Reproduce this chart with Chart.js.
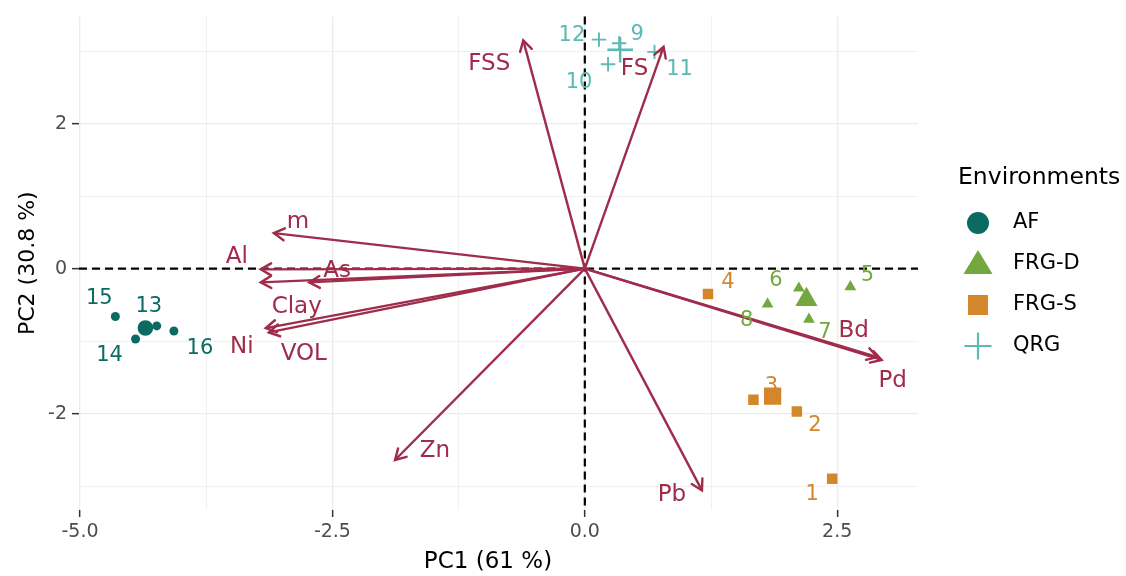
<!DOCTYPE html>
<html>
<head>
<meta charset="utf-8">
<script src="https://cdn.jsdelivr.net/npm/chart.js@4.4.1/dist/chart.umd.min.js"></script>
<style>
  html, body { margin: 0; padding: 0; background: #fff; }
  #wrap { width: 1126px; height: 576px; }
</style>
</head>
<body>
<div id="wrap"><canvas id="biplot" width="1126" height="576"></canvas></div>
<script>
// sample scores
const afIds = ['15', '13', '14', '16'];
const afPC1 = [-4.65, -4.24, -4.45, -4.07];
const afPC2 = [-0.66, -0.79, -0.97, -0.86];

const frgdIds = ['5', '6', '8', '7'];
const frgdPC1 = [2.63, 2.12, 1.81, 2.22];
const frgdPC2 = [-0.25, -0.27, -0.49, -0.70];

const frgsIds = ['4', '3', '2', '1'];
const frgsPC1 = [1.22, 1.67, 2.10, 2.45];
const frgsPC2 = [-0.35, -1.81, -1.97, -2.90];

const qrgIds = ['12', '9', '10', '11'];
const qrgPC1 = [0.14, 0.34, 0.23, 0.69];
const qrgPC2 = [3.16, 3.11, 2.82, 2.99];

// variable arrows
const varNames = ['FSS', 'FS', 'm', 'Al', 'Clay', 'As', 'Ni', 'VOL', 'Zn', 'Pb', 'Bd', 'Pd'];
const varPC1 = [-0.61, 0.78, -3.08, -3.21, -3.21, -2.73, -3.16, -3.13, -1.88, 1.16, 2.90, 2.94];
const varPC2 = [3.15, 3.06, 0.49, -0.01, -0.19, -0.19, -0.82, -0.88, -2.64, -3.06, -1.22, -1.26];

const groupNames = ['AF', 'FRG-D', 'FRG-S', 'QRG'];
const xTicks = [-5, -3.75, -2.5, -1.25, 0, 1.25, 2.5];
const xTickLabels = ['-5.0', '', '-2.5', '', '0.0', '', '2.5'];
const yTicks = [-3, -2, -1, 0, 1, 2, 3];
const yTickLabels = ['', '-2', '', '0', '', '2', ''];

// colours
var colAF = '#0b6b63';
var colD = '#72a83e';
var colS = '#d4862a';
var colQ = '#5bbab3';
var colVar = '#a02c4c';

// label nudges in pixels (like ggrepel placed them)
var sampleNudge = {
	'15': [-16, -18], '13': [-8, -19], '14': [-26, 17], '16': [26, 18],
	'5': [17, -11], '6': [-23, -8], '8': [-21, 16], '7': [16, 13],
	'4': [20, -11], '3': [18, -13], '2': [18, 14], '1': [-20, 16],
	'12': [-27, -4], '9': [18, -9], '10': [-29, 18], '11': [25, 18]
};
var varNudge = {
	FSS: [-34, 24], FS: [-29, 22], m: [24, -11], Al: [-24, -12], Clay: [36, 25],
	As: [28, -11], Ni: [-24, 19], VOL: [35, 22], Zn: [40, -9], Pb: [-30, 5],
	Bd: [-24, -26], Pd: [11, 21]
};

function mean(a) {
	return a.reduce(function(s, v) { return s + v; }, 0) / a.length;
}

function pts(xs, ys) {
	return xs.map(function(x, i) { return {x: x, y: ys[i]}; });
}

var groups = [
	{ids: afIds, xs: afPC1, ys: afPC2, color: colAF, style: 'circle', r: 4.5, rBig: 7.8, bw: 0},
	{ids: frgdIds, xs: frgdPC1, ys: frgdPC2, color: colD, style: 'triangle', r: 6.8, rBig: 12.8, bw: 0},
	{ids: frgsIds, xs: frgsPC1, ys: frgsPC2, color: colS, style: 'rect', r: 7.4, rBig: 12.2, bw: 0},
	{ids: qrgIds, xs: qrgPC1, ys: qrgPC2, color: colQ, style: 'cross', r: 7.2, rBig: 12.8, bw: 1.9}
];

var datasets = [];

// arrows first in the list -> drawn on top
varNames.forEach(function(name, i) {
	datasets.push({
		label: name,
		type: 'scatter',
		showLine: true,
		data: [{x: 0, y: 0}, {x: varPC1[i], y: varPC2[i]}],
		borderColor: colVar,
		borderWidth: 2.4,
		pointRadius: 0,
		order: 1
	});
});

groups.forEach(function(g, k) {
	datasets.push({
		label: groupNames[k],
		data: pts(g.xs, g.ys),
		pointStyle: g.style,
		pointRadius: g.r,
		pointBackgroundColor: g.color,
		pointBorderColor: g.color,
		pointBorderWidth: g.bw,
		order: 2
	});
	datasets.push({
		label: groupNames[k] + ' mean',
		data: [{x: mean(g.xs), y: mean(g.ys)}],
		pointStyle: g.style,
		pointRadius: g.rBig,
		pointBackgroundColor: g.color,
		pointBorderColor: g.color,
		pointBorderWidth: g.bw ? 2.4 : 0,
		order: 2
	});
});

var zeroLines = {
	id: 'zeroLines',
	beforeDatasetsDraw: function(chart) {
		var ctx = chart.ctx, a = chart.chartArea;
		var x0 = chart.scales.x.getPixelForValue(0);
		var y0 = chart.scales.y.getPixelForValue(0);
		ctx.save();
		ctx.strokeStyle = '#000';
		ctx.lineWidth = 2.2;
		ctx.setLineDash([8, 5]);
		ctx.beginPath();
		ctx.moveTo(x0, a.top);
		ctx.lineTo(x0, a.bottom);
		ctx.moveTo(a.left, y0);
		ctx.lineTo(a.right, y0);
		ctx.stroke();
		ctx.restore();
	}
};

var biplotText = {
	id: 'biplotText',
	afterDatasetsDraw: function(chart) {
		var ctx = chart.ctx;
		var sx = chart.scales.x, sy = chart.scales.y;
		ctx.save();
		// arrow heads
		ctx.strokeStyle = colVar;
		ctx.lineWidth = 2.4;
		ctx.lineCap = 'round';
		varNames.forEach(function(name, i) {
			var x0 = sx.getPixelForValue(0), y0 = sy.getPixelForValue(0);
			var x1 = sx.getPixelForValue(varPC1[i]), y1 = sy.getPixelForValue(varPC2[i]);
			var ang = Math.atan2(y1 - y0, x1 - x0);
			var len = 12, spread = Math.PI / 6;
			ctx.beginPath();
			ctx.moveTo(x1 - len * Math.cos(ang - spread), y1 - len * Math.sin(ang - spread));
			ctx.lineTo(x1, y1);
			ctx.lineTo(x1 - len * Math.cos(ang + spread), y1 - len * Math.sin(ang + spread));
			ctx.stroke();
		});
		ctx.textAlign = 'center';
		ctx.textBaseline = 'middle';
		// variable labels
		ctx.font = '23px "DejaVu Sans"';
		ctx.fillStyle = colVar;
		varNames.forEach(function(name, i) {
			var n = varNudge[name];
			ctx.fillText(name, sx.getPixelForValue(varPC1[i]) + n[0], sy.getPixelForValue(varPC2[i]) + n[1]);
		});
		// sample labels
		ctx.font = '21px "DejaVu Sans"';
		groups.forEach(function(g) {
			ctx.fillStyle = g.color;
			g.ids.forEach(function(id, i) {
				var n = sampleNudge[id];
				ctx.fillText(id, sx.getPixelForValue(g.xs[i]) + n[0], sy.getPixelForValue(g.ys[i]) + n[1]);
			});
		});
		ctx.restore();
	}
};

var envLegend = {
	id: 'envLegend',
	afterDraw: function(chart) {
		var ctx = chart.ctx;
		ctx.save();
		ctx.fillStyle = '#000';
		ctx.textBaseline = 'middle';
		// x axis title, a bit left of the panel centre as in the source
		ctx.textAlign = 'center';
		ctx.font = '23px "DejaVu Sans"';
		ctx.fillText('PC1 (61 %)', 488, 562);
		ctx.textAlign = 'left';
		ctx.font = '23.5px "DejaVu Sans"';
		ctx.fillText('Environments', 958, 178);
		ctx.font = '21px "DejaVu Sans"';
		var kx = 978;
		groups.forEach(function(g, k) {
			var ky = 223 + k * 41;
			ctx.fillStyle = g.color;
			ctx.strokeStyle = g.color;
			ctx.beginPath();
			if (g.style === 'circle') {
				ctx.arc(kx, ky, 11, 0, Math.PI * 2);
				ctx.fill();
			} else if (g.style === 'triangle') {
				ctx.moveTo(kx, ky - 14);
				ctx.lineTo(kx + 14.5, ky + 10);
				ctx.lineTo(kx - 14.5, ky + 10);
				ctx.closePath();
				ctx.fill();
			} else if (g.style === 'rect') {
				ctx.rect(kx - 10, ky - 10, 20, 20);
				ctx.fill();
			} else {
				ctx.lineWidth = 2.2;
				ctx.moveTo(kx - 13.5, ky);
				ctx.lineTo(kx + 13.5, ky);
				ctx.moveTo(kx, ky - 13.5);
				ctx.lineTo(kx, ky + 13.5);
				ctx.stroke();
			}
			ctx.fillStyle = '#000';
			ctx.fillText(groupNames[k], 1013, ky);
		});
		ctx.restore();
	}
};

new Chart(document.getElementById('biplot'), {
	type: 'scatter',
	data: {datasets: datasets},
	options: {
		responsive: false,
		animation: false,
		devicePixelRatio: 1,
		layout: {padding: {left: 0, top: 16, right: 208, bottom: 0}},
		plugins: {
			legend: {display: false},
			tooltip: {enabled: false}
		},
		scales: {
			x: {
				type: 'linear',
				min: -5.01,
				max: 3.30,
				afterBuildTicks: function(axis) {
					axis.ticks = xTicks.map(function(v) { return {value: v}; });
				},
				afterFit: function(scale) { scale.height = 66; },
				border: {display: false},
				grid: {
					color: '#ebebeb',
					lineWidth: function(c) { return xTickLabels[c.index] ? 1.3 : 0.7; },
					tickLength: 7,
					tickWidth: 1.5,
					tickColor: function(c) { return xTickLabels[c.index] ? '#333' : 'rgba(0,0,0,0)'; }
				},
				ticks: {
					autoSkip: false,
					maxRotation: 0,
					padding: 4,
					color: '#4d4d4d',
					font: {family: 'DejaVu Sans', size: 19},
					callback: function(v, i) { return xTickLabels[i]; }
				},
				title: {display: false}
			},
			y: {
				type: 'linear',
				min: -3.33,
				max: 3.48,
				afterBuildTicks: function(axis) {
					axis.ticks = yTicks.map(function(v) { return {value: v}; });
				},
				afterFit: function(scale) { scale.width = 79; },
				border: {display: false},
				grid: {
					color: '#ebebeb',
					lineWidth: function(c) { return yTickLabels[c.index] ? 1.3 : 0.7; },
					tickLength: 7,
					tickWidth: 1.5,
					tickColor: function(c) { return yTickLabels[c.index] ? '#333' : 'rgba(0,0,0,0)'; }
				},
				ticks: {
					autoSkip: false,
					padding: 5,
					color: '#4d4d4d',
					font: {family: 'DejaVu Sans', size: 19},
					callback: function(v, i) { return yTickLabels[i]; }
				},
				title: {
					display: true,
					text: 'PC2 (30.8 %)',
					color: '#000',
					font: {family: 'DejaVu Sans', size: 22},
					padding: {top: 15, bottom: 0}
				}
			}
		}
	},
	plugins: [zeroLines, biplotText, envLegend]
});
</script>
</body>
</html>
